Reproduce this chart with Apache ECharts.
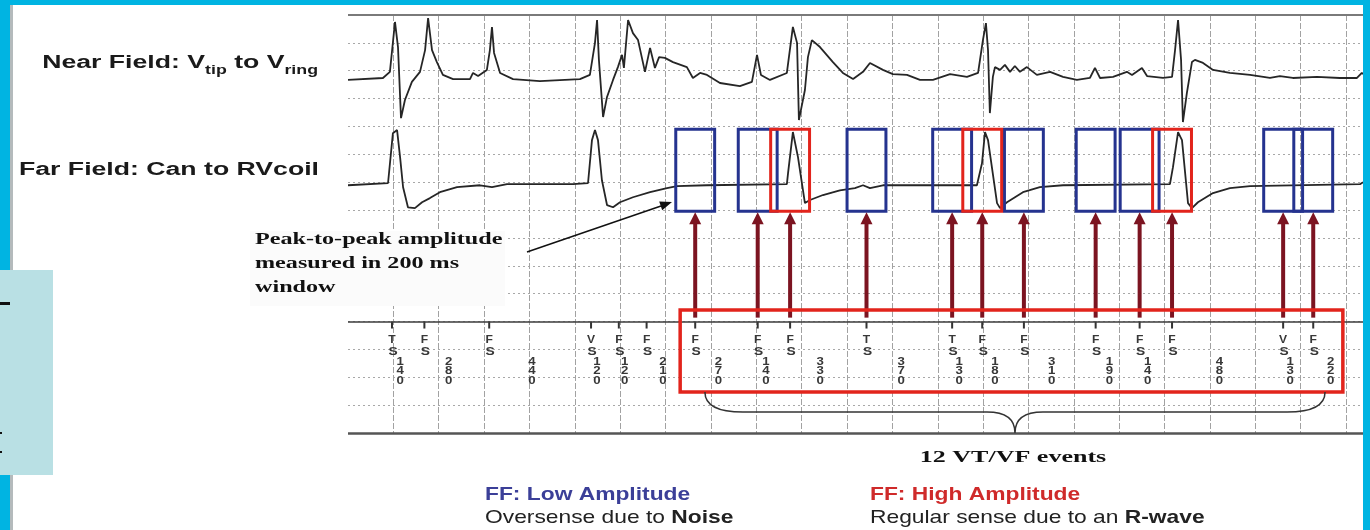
<!DOCTYPE html>
<html>
<head>
<meta charset="utf-8">
<script src="https://cdn.jsdelivr.net/npm/echarts@6/dist/echarts.min.js"></script>
<style>
  html, body { margin: 0; padding: 0; background: #ffffff; }
  #chart { width: 1370px; height: 530px; }
</style>
</head>
<body>
<div id="chart"></div>
<script>
// ---- Marker channel: sensed events and the R-R intervals printed under them (ms)
const eventTypes  = ['TS','FS','FS','VS','FS','FS','FS','FS','FS','TS','TS','FS','FS','FS','FS','FS','VS','FS'];
const intervalsMs = [140, 280, 440, 120, 120, 210, 270, 140, 330, 370, 130, 180, 310, 190, 140, 480, 130, 220];
const firstEventMs = 190;

// ---- The 12 VT/VF events and their far-field amplitude class
const vtEventIndex     = [6, 7, 8, 9, 10, 11, 12, 13, 14, 15, 16, 17];
const vtEventAmplitude = ['low','low','high','low','low','high','low','low','low','high','low','low'];

// ---- Near field (Vtip to Vring): [time ms, amplitude in grid units]
const nearField = [
  [0,-0.07],[151,0],[181,0.22],[203,2.01],[216,1.11],[229,-1.44],[246,-0.79],[276,-0.14],[311,0.22],
  [333,1.0],[346,2.15],[363,1.0],[384,0.57],[410,0.11],[454,-0.04],[527,-0.04],[540,0.18],[562,0.07],
  [600,0.29],[613,1.0],[622,1.83],[631,0.9],[657,0.18],[713,-0.04],[829,-0.11],[1002,-0.04],[1045,0.11],
  [1067,1.26],[1076,2.08],[1084,0.65],[1102,-1.4],[1119,-0.68],[1145,-0.07],[1166,0.39],[1184,0.83],
  [1192,0.36],[1210,2.08],[1231,1.61],[1253,1.36],[1283,0.22],[1305,1.08],[1326,0.36],[1344,0.75],
  [1369,0.72],[1404,0.57],[1464,0.39],[1490,0],[1521,0.18],[1551,0.11],[1607,-0.18],[1693,-0.29],
  [1745,-0.14],[1767,0.83],[1784,0.11],[1823,-0.07],[1896,0.18],[1922,1.83],[1940,1.26],[1948,-1.51],
  [1974,-0.43],[1987,0.75],[2004,1.36],[2039,1.11],[2095,0.57],[2138,0.18],[2182,-0.04],[2225,0.22],
  [2255,0.54],[2311,0.29],[2354,0.14],[2415,0.11],[2471,-0.07],[2527,-0.07],[2601,0.14],[2674,0.04],
  [2722,0.18],[2743,1.36],[2756,1.97],[2765,1.0],[2773,-1.26],[2786,0.04],[2795,0.39],[2817,0.29],
  [2838,0.47],[2860,0.22],[2881,0.43],[2903,0.22],[2933,0.39],[2976,0.11],[3033,0.22],[3089,0.04],
  [3149,-0.07],[3205,0],[3227,0.36],[3249,0],[3305,0.04],[3365,0.22],[3387,0.11],[3430,0.36],
  [3452,0.07],[3521,0],[3560,0.04],[3573,1.0],[3586,2.08],[3599,0.65],[3607,-1.58],[3624,-0.54],
  [3646,0.57],[3659,0.65],[3694,0.54],[3737,0.29],[3810,0.18],[3897,0.11],[3983,0],[4026,0.07],
  [4082,0],[4186,0.04],[4285,0],[4359,0],[4380,0.18],[4385,0.14]
];

// ---- Far field (Can to RVcoil): [time ms, amplitude in grid units]
const farField = [
  [0,-0.04],[173,0.04],[194,1.83],[212,1.94],[225,0.97],[238,-0.11],[259,-0.83],[289,-0.86],[320,-0.65],
  [354,-0.5],[397,-0.29],[471,-0.11],[570,-0.04],[622,-0.11],[687,0],[972,0],[1037,0.04],[1054,1.58],
  [1067,1.94],[1080,1.58],[1097,0.14],[1119,-0.75],[1145,-0.83],[1175,-0.65],[1231,-0.47],[1305,-0.29],
  [1378,-0.14],[1421,-0.07],[1551,-0.04],[1896,0],[1901,0.39],[1922,1.87],[1944,0.97],[1974,-0.68],
  [1996,-0.57],[2052,-0.39],[2125,-0.22],[2190,-0.14],[2225,-0.04],[2255,-0.14],[2311,-0.04],[2717,-0.04],
  [2739,0.75],[2752,1.87],[2765,1.58],[2804,-0.68],[2817,-0.86],[2847,-0.65],[2916,-0.29],[2989,-0.11],
  [3089,-0.04],[3551,0],[3564,0.61],[3586,1.87],[3603,1.58],[3629,-0.68],[3646,-0.86],[3672,-0.65],
  [3737,-0.32],[3810,-0.14],[3897,-0.07],[4372,0],[4385,0.07]
];

// ---- Paper layout (grid units: one major box = 1)
const MS_PER_BOX = 196;
const STRIP_MS = 4385;
const NEAR_BASE = 12.74, FAR_BASE = 8.93, MARKER_BASE = 4;
const WIN_HALF_MS = 84, WIN_TOP = 1.97, WIN_BOTTOM = -0.97;
const ARROW_FOOT = 4.14;
const BLUE = '#25338f', RED = '#e2241c', MAROON = '#7c1421', INK = '#262626';

// event times from the printed intervals
const eventMs = [];
let acc = firstEventMs;
eventTypes.forEach((t, i) => { eventMs.push(acc); acc += intervalsMs[i]; });

const markerData = eventMs.map((t, i) => [t, i]);
const intervalData = intervalsMs.map((iv, i) => [eventMs[i] + iv / 2 - 35, iv]);
const windowData = vtEventIndex
  .map((ei, k) => [eventMs[ei], vtEventAmplitude[k] === 'high' ? 1 : 0])
  .sort((a, b) => a[1] - b[1]);
const arrowData = vtEventIndex.map(ei => [eventMs[ei]]);
const firstVt = eventMs[vtEventIndex[0]];
const lastVt = eventMs[vtEventIndex[vtEventIndex.length - 1]];

const chart = echarts.init(document.getElementById('chart'), null, { renderer: 'canvas' });

const SANS = '"Liberation Sans", Arial, sans-serif';
const SERIF = '"Liberation Serif", "Times New Roman", serif';

function txt(x, y, text, font, fill, align, sx, rich) {
  const style = { text: text, font: font, fill: fill, textAlign: align, textVerticalAlign: 'middle',
                  align: align, verticalAlign: 'middle' };
  if (rich) style.rich = rich;
  return { type: 'text', x: x, y: y, scaleX: sx, z: 100, style: style };
}

const option = {
  backgroundColor: '#ffffff',
  animation: false,
  grid: { left: 348, right: 7, top: 15, bottom: 97, containLabel: false },
  xAxis: {
    type: 'value', min: 0, max: STRIP_MS, interval: MS_PER_BOX,
    axisLine: { show: false }, axisTick: { show: false }, axisLabel: { show: false },
    splitLine: { show: true, showMinLine: false, showMaxLine: false,
      lineStyle: { color: '#a2a2a2', width: 1, type: [6, 2] } }
  },
  yAxis: {
    type: 'value', min: 0, max: 15, interval: 1,
    axisLine: { show: false }, axisTick: { show: false }, axisLabel: { show: false },
    splitLine: { show: true, showMinLine: false, showMaxLine: false,
      lineStyle: { color: '#a8a8a8', width: 1, type: [2, 3] } }
  },
  series: [
    {
      name: 'Near Field', type: 'line', showSymbol: false, silent: true,
      data: nearField.map(p => [p[0], p[1] + NEAR_BASE]),
      lineStyle: { color: INK, width: 1.8 }, z: 3,
      markLine: {
        silent: true, symbol: 'none', label: { show: false },
        data: [
          { yAxis: 15, lineStyle: { color: '#7a7a7a', width: 2, type: 'solid' } },
          { yAxis: MARKER_BASE, lineStyle: { color: '#3c3c3c', width: 1.5, type: 'solid' } },
          { yAxis: 0, lineStyle: { color: '#555555', width: 2.5, type: 'solid' } }
        ]
      }
    },
    {
      name: 'Far Field', type: 'line', showSymbol: false, silent: true,
      data: farField.map(p => [p[0], p[1] + FAR_BASE]),
      lineStyle: { color: INK, width: 1.8 }, z: 3
    },
    {
      // 200 ms amplitude windows around each VT/VF event
      name: 'windows', type: 'custom', silent: true, z: 5, data: windowData,
      renderItem: function (params, api) {
        const t = api.value(0), high = api.value(1) === 1;
        const a = api.coord([t - WIN_HALF_MS, FAR_BASE + WIN_TOP]);
        const b = api.coord([t + WIN_HALF_MS, FAR_BASE + WIN_BOTTOM]);
        return { type: 'rect', shape: { x: a[0], y: a[1], width: b[0] - a[0], height: b[1] - a[1] },
                 style: { fill: 'none', stroke: high ? RED : BLUE, lineWidth: 3 } };
      }
    },
    {
      name: 'arrows', type: 'custom', silent: true, z: 6, data: arrowData,
      renderItem: function (params, api) {
        const t = api.value(0);
        const foot = api.coord([t, ARROW_FOOT]);
        const tip = api.coord([t, FAR_BASE + WIN_BOTTOM]);
        const x = tip[0], ty = tip[1] + 1;
        return { type: 'group', children: [
          { type: 'line', shape: { x1: x, y1: foot[1], x2: x, y2: ty + 10 },
            style: { stroke: MAROON, lineWidth: 4 } },
          { type: 'polygon', shape: { points: [[x - 6, ty + 12], [x + 6, ty + 12], [x, ty]] },
            style: { fill: MAROON } }
        ] };
      }
    },
    {
      name: 'markers', type: 'custom', silent: true, z: 4, data: markerData,
      renderItem: function (params, api) {
        const t = api.value(0), code = eventTypes[api.value(1)];
        const p = api.coord([t, MARKER_BASE]);
        const f = 'bold 11px ' + SANS;
        return { type: 'group', children: [
          { type: 'line', shape: { x1: p[0], y1: p[1], x2: p[0], y2: p[1] + 7 },
            style: { stroke: '#333', lineWidth: 2 } },
          { type: 'text', x: p[0], y: p[1] + 18, scaleX: 1.1,
            style: { text: code[0], font: f, fill: '#383838', textAlign: 'center', textVerticalAlign: 'middle', align: 'center', verticalAlign: 'middle' } },
          { type: 'text', x: p[0] + 1, y: p[1] + 30, scaleX: 1.25,
            style: { text: code[1], font: f, fill: '#383838', textAlign: 'center', textVerticalAlign: 'middle', align: 'center', verticalAlign: 'middle' } }
        ] };
      }
    },
    {
      name: 'intervals', type: 'custom', silent: true, z: 4, data: intervalData,
      renderItem: function (params, api) {
        const t = api.value(0), digits = String(api.value(1)).split('');
        const p = api.coord([t, MARKER_BASE]);
        return { type: 'group', children: digits.map((d, k) => ({
          type: 'text', x: p[0], y: p[1] + 40 + k * 9.7, scaleX: 1.2,
          style: { text: d, font: 'bold 11px ' + SANS, fill: '#383838',
                   textAlign: 'center', textVerticalAlign: 'middle', align: 'center', verticalAlign: 'middle' }
        })) };
      }
    },
    {
      // frame around the VT/VF run and the brace under it
      name: 'episode', type: 'custom', silent: true, z: 7, data: [[firstVt, lastVt]],
      renderItem: function (params, api) {
        const t0 = api.value(0), t1 = api.value(1);
        const a = api.coord([t0 - 65, 4.41]);
        const b = api.coord([t1 + 128, 1.47]);
        const xl = api.coord([t0 + 42, 0])[0], xr = api.coord([t1 + 51, 0])[0];
        const yTop = api.coord([0, 1.47])[1], yMid = api.coord([0, 0.75])[1], yTip = api.coord([0, 0])[1];
        const xc = (xl + xr) / 2;
        const path = 'M' + xl + ',' + yTop + ' Q' + xl + ',' + yMid + ' ' + (xl + 38) + ',' + yMid +
          ' L' + (xc - 28) + ',' + yMid + ' Q' + xc + ',' + yMid + ' ' + xc + ',' + yTip +
          ' Q' + xc + ',' + yMid + ' ' + (xc + 28) + ',' + yMid +
          ' L' + (xr - 38) + ',' + yMid + ' Q' + xr + ',' + yMid + ' ' + xr + ',' + yTop;
        return { type: 'group', children: [
          { type: 'rect', shape: { x: a[0], y: a[1], width: b[0] - a[0], height: b[1] - a[1] },
            style: { fill: 'none', stroke: RED, lineWidth: 3.5 } },
          { type: 'path', shape: { pathData: path }, style: { fill: 'none', stroke: '#333', lineWidth: 1.5 } }
        ] };
      }
    }
  ],
  graphic: [
    // slide frame
    { type: 'rect', z: 90, shape: { x: 0, y: 0, width: 1370, height: 5 }, style: { fill: '#00b4e2' } },
    { type: 'rect', z: 90, shape: { x: 0, y: 0, width: 10, height: 530 }, style: { fill: '#00b4e2' } },
    { type: 'rect', z: 90, shape: { x: 1363, y: 0, width: 7, height: 530 }, style: { fill: '#00b4e2' } },
    { type: 'rect', z: 90, shape: { x: 10, y: 5, width: 3, height: 525 }, style: { fill: '#b4babc' } },
    { type: 'rect', z: 91, shape: { x: 0, y: 270, width: 53, height: 205 }, style: { fill: '#b9e0e4' } },
    { type: 'rect', z: 92, shape: { x: 0, y: 302, width: 10, height: 3 }, style: { fill: '#111' } },
    { type: 'rect', z: 92, shape: { x: 0, y: 432, width: 2, height: 2 }, style: { fill: '#111' } },
    { type: 'rect', z: 92, shape: { x: 0, y: 451, width: 2, height: 2 }, style: { fill: '#111' } },

    // channel labels
    txt(318, 64, '{b|Near Field: V}{s|tip}{b| to V}{s|ring}', 'bold 18px ' + SANS, '#1a1a1a', 'right', 1.48, {
      b: { font: 'bold 18px ' + SANS, fill: '#1a1a1a', lineHeight: 20, verticalAlign: 'top' },
      s: { font: 'bold 12px ' + SANS, fill: '#1a1a1a', lineHeight: 14, padding: [11, 0, 0, 0], verticalAlign: 'top' }
    }),
    txt(319, 170, 'Far Field: Can to RVcoil', 'bold 18px ' + SANS, '#1a1a1a', 'right', 1.48),

    // note on the amplitude window
    { type: 'rect', z: 95, shape: { x: 250, y: 231, width: 255, height: 75 }, style: { fill: '#fbfbfb' } },
    txt(255, 240, 'Peak-to-peak amplitude', 'bold 17px ' + SERIF, '#111', 'left', 1.42),
    txt(255, 264, 'measured in 200 ms', 'bold 17px ' + SERIF, '#111', 'left', 1.42),
    txt(255, 288, 'window', 'bold 17px ' + SERIF, '#111', 'left', 1.42),
    { type: 'line', z: 100, shape: { x1: 527, y1: 252, x2: 661, y2: 206 }, style: { stroke: '#111', lineWidth: 1.5 } },
    { type: 'polygon', z: 100, shape: { points: [[672, 202], [662.2, 210.2], [659.2, 201.6]] }, style: { fill: '#111' } },

    txt(1013, 458, '12 VT/VF events', 'bold 17px ' + SERIF, '#111', 'center', 1.53),

    // legend
    txt(485, 495, 'FF: Low Amplitude', 'bold 19px ' + SANS, '#3b3f98', 'left', 1.2),
    txt(485, 518, 'Oversense due to {b|Noise}', '19px ' + SANS, '#222', 'left', 1.2,
        { b: { font: 'bold 19px ' + SANS, fill: '#222' } }),
    txt(870, 495, 'FF: High Amplitude', 'bold 19px ' + SANS, '#cf2a2a', 'left', 1.2),
    txt(870, 518, 'Regular sense due to an {b|R-wave}', '19px ' + SANS, '#222', 'left', 1.2,
        { b: { font: 'bold 19px ' + SANS, fill: '#222' } })
  ]
};

chart.setOption(option);
</script>
</body>
</html>
